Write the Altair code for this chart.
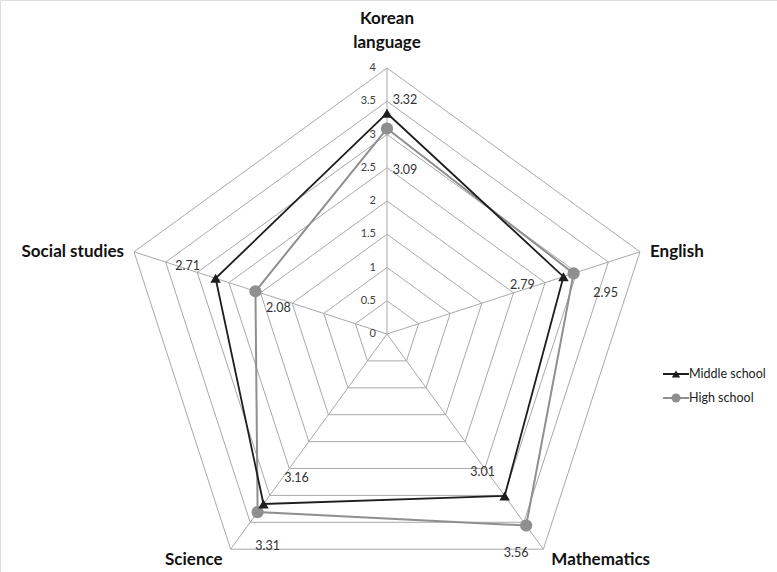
import altair as alt
import pandas as pd

# ---- data ----
categories = ["Korean language", "English", "Mathematics", "Science", "Social studies"]
category_text = ["Korean\nlanguage", "English", "Mathematics", "Science", "Social studies"]
middle_school = [3.32, 2.79, 3.01, 3.16, 2.71]
high_school = [3.09, 2.95, 3.56, 3.31, 2.08]
series_names = ["Middle school", "High school"]
grid_levels = [0.5, 1.0, 1.5, 2.0, 2.5, 3.0, 3.5, 4.0]
tick_values = [0, 0.5, 1, 1.5, 2, 2.5, 3, 3.5, 4]
tick_labels = ["0", "0.5", "1", "1.5", "2", "2.5", "3", "3.5", "4"]
r_max = 4

# ---- layout (pixels) ----
W, H = 777, 572
CX, CY = 387, 334
PX = 266 / r_max  # pixels per unit
mid_dx = [18, -41, -22, 33, -28]
mid_dy = [-13, 8, -24, -26, -12]
high_dx = [18, 32, -10, 10, 23]
high_dy = [41, 20, 27, 34, 17]
cat_align = ["center", "left", "left", "right", "right"]
cat_dx = [0, 10, 8, -8, -10]
cat_dy = [-40, 0, 11, 11, 0]
cat_base = ["bottom", "middle", "middle", "middle", "middle"]

N = len(categories)
xs = alt.Scale(domain=[-CX / PX, (W - CX) / PX], range=[0, W], nice=False, zero=False)
ys = alt.Scale(domain=[-(H - CY) / PX, CY / PX], range=[H, 0], nice=False, zero=False)
X = lambda f: alt.X(f, type="quantitative", scale=xs, axis=None)
Y = lambda f: alt.Y(f, type="quantitative", scale=ys, axis=None)
ang = f"datum.k * 2 * PI / {N}"
cx = f"datum.r * sin({ang})"
cy = f"datum.r * cos({ang})"

# grid pentagons
grid_rows = []
for lv in grid_levels:
    for k in range(N + 1):
        grid_rows.append({"lv": lv, "k": k % N, "o": k, "r": lv})
grid = alt.Chart(pd.DataFrame(grid_rows)).transform_calculate(x=cx, y=cy).mark_line(
    color="#a9a9a9", strokeWidth=1
).encode(x=X("x"), y=Y("y"), detail="lv:N", order="o:Q")

# spokes
spoke_df = pd.DataFrame({"k": list(range(N)), "r": [r_max] * N})
spokes = alt.Chart(spoke_df).transform_calculate(x=cx, y=cy, x0="0", y0="0").mark_rule(
    color="#a9a9a9", strokeWidth=1
).encode(x=X("x0"), y=Y("y0"), x2="x:Q", y2="y:Q")

# tick labels on the top spoke
tick_df = pd.DataFrame({"v": tick_values, "t": tick_labels, "z": [0] * len(tick_values)})
ticks = alt.Chart(tick_df).mark_text(
    align="right", baseline="middle", dx=-11, fontSize=11, font="Lato", color="#404040"
).encode(x=X("z"), y=Y("v"), text="t:N")

# series
rows = []
for s, vals, dxs, dys in [(series_names[0], middle_school, mid_dx, mid_dy),
                          (series_names[1], high_school, high_dx, high_dy)]:
    for k in range(N + 1):
        kk = k % N
        rows.append({"series": s, "k": kk, "o": k, "r": vals[kk], "cat": categories[kk],
                     "lab": f"{vals[kk]:.2f}", "ldx": dxs[kk], "ldy": dys[kk], "closing": k == N})
sdf = pd.DataFrame(rows)
base = alt.Chart(sdf).transform_calculate(x=cx, y=cy)

def series_layers(name, color, shape, size, width):
    b = base.transform_filter(alt.datum.series == name)
    line = b.mark_line(color=color, strokeWidth=width).encode(x=X("x"), y=Y("y"), order="o:Q")
    pts = b.transform_filter("!datum.closing").mark_point(
        shape=shape, filled=True, color=color, size=size, opacity=1
    ).encode(x=X("x"), y=Y("y"))
    labs = b.transform_filter("!datum.closing").transform_calculate(
        lx=f"datum.x + datum.ldx / {PX}", ly=f"datum.y - datum.ldy / {PX}"
    ).mark_text(fontSize=12.5, font="Lato", color="#333333", baseline="middle").encode(
        x=X("lx"), y=Y("ly"), text="lab:N")
    return [line, pts, labs]

high_layers = series_layers(series_names[1], "#8f8f8f", "circle", 150, 2)
mid_layers = series_layers(series_names[0], "#1e1e1e", "triangle-up", 110, 1.8)

# category labels
cat_layers = []
for i in range(N):
    d = pd.DataFrame({"k": [i], "r": [r_max], "t": [category_text[i]]})
    cat_layers.append(
        alt.Chart(d).transform_calculate(x=cx, y=cy).mark_text(
            align=cat_align[i], baseline=cat_base[i], dx=cat_dx[i], dy=cat_dy[i],
            fontSize=17, fontWeight="bold", font="Lato", color="#111111",
            lineBreak="\n", lineHeight=24
        ).encode(x=X("x"), y=Y("y"), text="t:N")
    )

# legend (manual)
leg_df = pd.DataFrame({"series": series_names, "row": [0, 1]})
leg_y = [374, 398]
leg_colors = ["#1e1e1e", "#8f8f8f"]
leg_shapes = ["triangle-up", "circle"]
leg_sizes = [70, 80]
legend_layers = []
for i, s in enumerate(series_names):
    ld = alt.Chart(leg_df).transform_filter(alt.datum.series == s)
    legend_layers.append(ld.mark_rule(color=leg_colors[i], strokeWidth=2).encode(
        x=alt.value(663), x2=alt.value(689), y=alt.value(leg_y[i])))
    legend_layers.append(ld.mark_point(shape=leg_shapes[i], filled=True, color=leg_colors[i],
                                       size=leg_sizes[i], opacity=1).encode(
        x=alt.value(676), y=alt.value(leg_y[i])))
    legend_layers.append(ld.mark_text(align="left", baseline="middle", fontSize=12.5, font="Lato",
                                      color="#222222").encode(
        x=alt.value(689), y=alt.value(leg_y[i]), text="series:N"))

chart = alt.layer(
    grid, spokes, ticks, *high_layers, *mid_layers, *cat_layers, *legend_layers
).properties(
    width=W, height=H, autosize=alt.AutoSizeParams(type="none"), padding=0
).configure_view(stroke=None).configure(background="white")

chart.save("out.html", embed_options={"renderer": "svg", "actions": False})
